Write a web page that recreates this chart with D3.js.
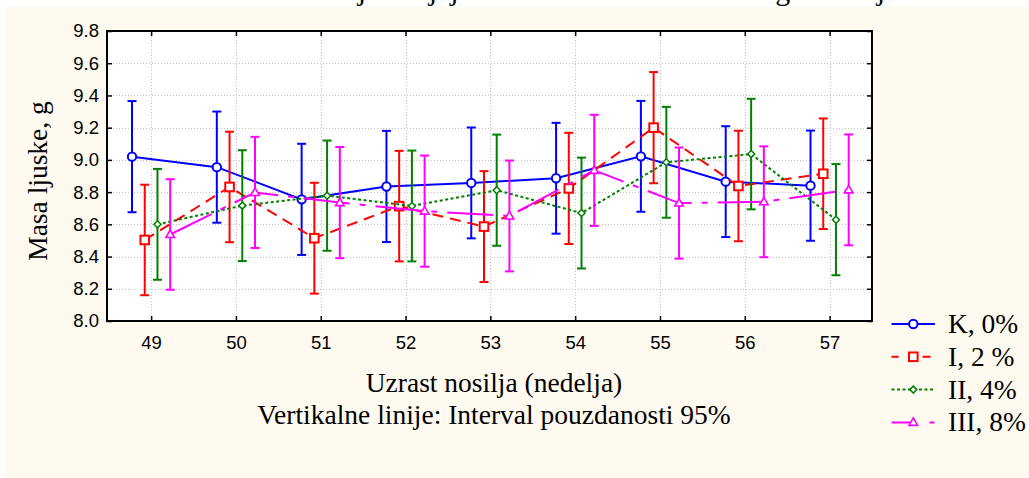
<!DOCTYPE html>
<html>
<head>
<meta charset="utf-8">
<script src="https://cdn.jsdelivr.net/npm/d3@7/dist/d3.min.js"></script>
<style>
  html, body { margin: 0; padding: 0; background: #ffffff; }
  svg { display: block; }
</style>
</head>
<body>
<svg id="chart" width="1029" height="478"></svg>
<script>
// Eggshell mass per week of hen age, four treatment groups, with 95% CI
const weeks = [49, 50, 51, 52, 53, 54, 55, 56, 57];

const meanK   = [9.02, 8.955, 8.755, 8.835, 8.857, 8.886, 9.022, 8.865, 8.84];
const meanI   = [8.503, 8.832, 8.514, 8.713, 8.586, 8.823, 9.20, 8.838, 8.914];
const meanII  = [8.60, 8.716, 8.778, 8.714, 8.812, 8.67, 8.985, 9.036, 8.629];
const meanIII = [8.537, 8.798, 8.735, 8.682, 8.652, 8.935, 8.732, 8.74, 8.814];

const ciK   = [0.345, 0.345, 0.345, 0.345, 0.344, 0.344, 0.344, 0.344, 0.342];
const ciI   = [0.343, 0.343, 0.344, 0.343, 0.344, 0.345, 0.345, 0.343, 0.343];
const ciII  = [0.344, 0.344, 0.342, 0.344, 0.345, 0.344, 0.344, 0.343, 0.345];
const ciIII = [0.343, 0.345, 0.345, 0.345, 0.344, 0.345, 0.345, 0.344, 0.344];

const seriesNames = ["K, 0%", "I, 2 %", "II, 4%", "III, 8%"];
const yTicks = [8.0, 8.2, 8.4, 8.6, 8.8, 9.0, 9.2, 9.4, 9.6, 9.8];

const titleText = "Masa ljuske jaja u zavisnosti od uzrasta i generacije";

const series = [
  { name: seriesNames[0], mean: meanK,   ci: ciK,   color: "#0000ff", shift: -0.225, dash: null,        legendDash: null,            marker: "circle" },
  { name: seriesNames[1], mean: meanI,   ci: ciI,   color: "#ff0000", shift: -0.075, dash: "11,7",      legendDash: "7,24,8",        marker: "square" },
  { name: seriesNames[2], mean: meanII,  ci: ciII,  color: "#008000", shift:  0.075, dash: "3,2.5",     legendDash: "3,2.5",         marker: "diamond" },
  { name: seriesNames[3], mean: meanIII, ci: ciIII, color: "#ff00ff", shift:  0.225, dash: "46,10,6,10", legendDash: "20,18,5,100", marker: "triangle" }
];

const svg = d3.select("#chart");

// page background
svg.append("rect").attr("x", 5).attr("y", 7).attr("width", 1024).attr("height", 471)
  .attr("fill", "#fffaf0");

// title (runs off the top edge)
svg.append("text").attr("x", 277).attr("y", 0)
  .attr("font-family", "'Liberation Serif', 'Times New Roman', serif")
  .attr("font-size", 30).attr("fill", "#000")
  .text(titleText);

const plot = { left: 107, top: 31, right: 872, bottom: 321 };

const x = d3.scaleLinear().domain([48.48, 57.5]).range([plot.left, plot.right]);
const y = d3.scaleLinear().domain([8.0, 9.8]).range([plot.bottom, plot.top]);

// plot area
svg.append("rect").attr("x", plot.left).attr("y", plot.top)
  .attr("width", plot.right - plot.left).attr("height", plot.bottom - plot.top)
  .attr("fill", "#ffffff");

// grid
const grid = svg.append("g").attr("stroke", "#c4c4c4").attr("stroke-width", 1)
  .attr("stroke-dasharray", "1,2").attr("shape-rendering", "crispEdges");
grid.selectAll(".gy").data(yTicks.slice(1, -1)).enter().append("line")
  .attr("x1", plot.left).attr("x2", plot.right)
  .attr("y1", d => Math.round(y(d)) + 0.5).attr("y2", d => Math.round(y(d)) + 0.5);
grid.selectAll(".gx").data(weeks).enter().append("line")
  .attr("y1", plot.top).attr("y2", plot.bottom)
  .attr("x1", d => Math.round(x(d)) + 0.5).attr("x2", d => Math.round(x(d)) + 0.5);

// axes with inward ticks
const tickFont = "'Liberation Sans', Arial, sans-serif";
const axL = svg.append("g").attr("transform", `translate(${plot.left},0)`)
  .call(d3.axisLeft(y).tickValues(yTicks).tickFormat(d3.format(".1f")).tickSizeInner(-5).tickSizeOuter(0).tickPadding(8));
const axR = svg.append("g").attr("transform", `translate(${plot.right},0)`)
  .call(d3.axisRight(y).tickValues(yTicks).tickFormat("").tickSizeInner(-5).tickSizeOuter(0));
const axB = svg.append("g").attr("transform", `translate(0,${plot.bottom})`)
  .call(d3.axisBottom(x).tickValues(weeks).tickFormat(d3.format("d")).tickSizeInner(-5).tickSizeOuter(0).tickPadding(15));
const axT = svg.append("g").attr("transform", `translate(0,${plot.top})`)
  .call(d3.axisTop(x).tickValues(weeks).tickFormat("").tickSizeInner(-5).tickSizeOuter(0));
[axL, axR, axB, axT].forEach(a => {
  a.select(".domain").remove();
  a.selectAll("line").attr("stroke", "#000").attr("stroke-width", 1.5);
  a.selectAll("text").attr("font-family", tickFont).attr("font-size", 18.5).attr("fill", "#000");
});

// frame
svg.append("rect").attr("x", plot.left).attr("y", plot.top)
  .attr("width", plot.right - plot.left).attr("height", plot.bottom - plot.top)
  .attr("fill", "none").attr("stroke", "#000").attr("stroke-width", 2);

// marker drawing
function drawMarker(g, kind, cx, cy, color) {
  if (kind === "circle") {
    g.append("circle").attr("cx", cx).attr("cy", cy).attr("r", 4.2)
      .attr("fill", "#fff").attr("stroke", color).attr("stroke-width", 2);
  } else if (kind === "square") {
    g.append("rect").attr("x", cx - 4.3).attr("y", cy - 4.3).attr("width", 8.6).attr("height", 8.6)
      .attr("fill", "#fff").attr("stroke", color).attr("stroke-width", 2);
  } else if (kind === "diamond") {
    g.append("path").attr("d", `M${cx},${cy - 3.5}L${cx + 3.5},${cy}L${cx},${cy + 3.5}L${cx - 3.5},${cy}Z`)
      .attr("fill", "#fff").attr("stroke", color).attr("stroke-width", 1.5);
  } else {
    g.append("path").attr("d", `M${cx},${cy - 4.5}L${cx + 4.3},${cy + 3}L${cx - 4.3},${cy + 3}Z`)
      .attr("fill", "#fff").attr("stroke", color).attr("stroke-width", 1.6);
  }
}

const line = d3.line().x(d => d[0]).y(d => d[1]);

series.forEach(s => {
  const g = svg.append("g");
  const pts = weeks.map((w, i) => [x(w + s.shift), y(s.mean[i])]);
  // connecting line
  g.append("path").attr("d", line(pts)).attr("fill", "none")
    .attr("stroke", s.color).attr("stroke-width", 2)
    .attr("stroke-dasharray", s.dash);
  // 95% confidence whiskers
  weeks.forEach((w, i) => {
    const cx = x(w + s.shift);
    const lo = y(s.mean[i] - s.ci[i]);
    const hi = y(s.mean[i] + s.ci[i]);
    g.append("line").attr("x1", cx).attr("x2", cx).attr("y1", lo).attr("y2", hi)
      .attr("stroke", s.color).attr("stroke-width", 2);
    [lo, hi].forEach(yy => g.append("line").attr("x1", cx - 4.5).attr("x2", cx + 4.5)
      .attr("y1", yy).attr("y2", yy).attr("stroke", s.color).attr("stroke-width", 2));
  });
  pts.forEach(p => drawMarker(g, s.marker, p[0], p[1], s.color));
});

// axis titles
const serif = "'Liberation Serif', 'Times New Roman', serif";
svg.append("text").attr("transform", "translate(47,181) rotate(-90)")
  .attr("text-anchor", "middle").attr("font-family", serif).attr("font-size", 27.5)
  .text("Masa ljuske, g");
svg.append("text").attr("x", 494).attr("y", 392).attr("text-anchor", "middle")
  .attr("font-family", serif).attr("font-size", 27.5).text("Uzrast nosilja (nedelja)");
svg.append("text").attr("x", 494).attr("y", 424).attr("text-anchor", "middle")
  .attr("font-family", serif).attr("font-size", 27.5).text("Vertikalne linije: Interval pouzdanosti 95%");

// legend
const legend = svg.append("g");
series.forEach((s, i) => {
  const ly = 324 + i * 32.8;
  legend.append("line").attr("x1", 891.5).attr("x2", 935).attr("y1", ly).attr("y2", ly)
    .attr("stroke", s.color).attr("stroke-width", 2).attr("stroke-dasharray", s.legendDash);
  drawMarker(legend, s.marker, 913.3, ly, s.color);
  legend.append("text").attr("x", 948).attr("y", ly + 9)
    .attr("font-family", serif).attr("font-size", 27.5).text(s.name);
});
</script>
</body>
</html>
